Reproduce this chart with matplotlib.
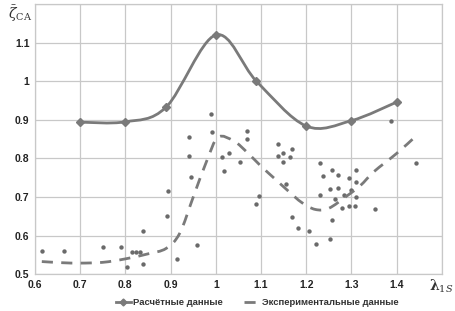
import numpy as np
import matplotlib
matplotlib.use("Agg")
import matplotlib.pyplot as plt
from matplotlib.path import Path
from matplotlib.patches import PathPatch
from matplotlib.lines import Line2D

# Calculated data (smoothed line with markers)
calc_x = [0.70, 0.80, 0.89, 1.00, 1.09, 1.20, 1.30, 1.40]
calc_y = [0.894, 0.895, 0.933, 1.120, 1.000, 0.884, 0.898, 0.946]

# Experimental scatter points
exp_x = [0.616, 0.665, 0.751, 0.790, 0.803, 0.814, 0.823, 0.832, 0.838, 0.838,
         0.893, 0.894, 0.913, 0.941, 0.941, 0.945, 0.958, 0.989, 0.991, 1.014,
         1.029, 1.018, 1.053, 1.070, 1.070, 1.096, 1.090, 1.138, 1.137, 1.149,
         1.168, 1.165, 1.149, 1.155, 1.169, 1.182, 1.207, 1.222, 1.231, 1.238,
         1.231, 1.256, 1.270, 1.253, 1.270, 1.264, 1.257, 1.253, 1.279, 1.284,
         1.294, 1.300, 1.294, 1.310, 1.310, 1.311, 1.309, 1.352, 1.387, 1.444]
exp_y = [0.561, 0.561, 0.571, 0.572, 0.520, 0.557, 0.557, 0.557, 0.611, 0.527,
         0.651, 0.716, 0.540, 0.856, 0.806, 0.751, 0.576, 0.915, 0.868, 0.805,
         0.813, 0.768, 0.791, 0.871, 0.851, 0.702, 0.681, 0.837, 0.807, 0.815,
         0.825, 0.803, 0.790, 0.735, 0.648, 0.621, 0.613, 0.579, 0.787, 0.755,
         0.705, 0.770, 0.758, 0.720, 0.724, 0.696, 0.641, 0.591, 0.672, 0.705,
         0.750, 0.718, 0.677, 0.770, 0.740, 0.699, 0.676, 0.669, 0.896, 0.789]

# Experimental trend (dashed)
trend_x = [0.615, 0.66, 0.70, 0.75, 0.80, 0.85, 0.89, 0.92, 0.95, 0.98, 1.005,
           1.04, 1.07, 1.10, 1.13, 1.16, 1.19, 1.22, 1.25, 1.29, 1.32, 1.35, 1.40, 1.44]
trend_y = [0.533, 0.530, 0.529, 0.531, 0.540, 0.553, 0.567, 0.606, 0.700, 0.794, 0.855,
           0.845, 0.815, 0.780, 0.748, 0.716, 0.686, 0.668, 0.671, 0.703, 0.730, 0.766, 0.813, 0.855]

x_ticks = [0.6, 0.7, 0.8, 0.9, 1.0, 1.1, 1.2, 1.3, 1.4, 1.5]
x_tick_labels = ["0.6", "0.7", "0.8", "0.9", "1", "1.1", "1.2", "1.3", "1.4", ""]
y_ticks = [0.5, 0.6, 0.7, 0.8, 0.9, 1.0, 1.1, 1.2]
y_tick_labels = ["0.5", "0.6", "0.7", "0.8", "0.9", "1", "1.1", ""]

legend_labels = ["Расчётные данные", "Экспериментальные данные"]


def smooth_path(xs, ys):
    pts = np.column_stack([xs, ys]).astype(float)
    n = len(pts)
    verts = [pts[0]]
    codes = [Path.MOVETO]
    for i in range(n - 1):
        p0 = pts[i - 1] if i > 0 else pts[i]
        p1 = pts[i]
        p2 = pts[i + 1]
        p3 = pts[i + 2] if i + 2 < n else pts[i + 1]
        c1 = p1 + (p2 - p0) / 6.0
        c2 = p2 - (p3 - p1) / 6.0
        verts += [c1, c2, p2]
        codes += [Path.CURVE4] * 3
    return Path(verts, codes)


plt.rcParams['font.family'] = ['Liberation Sans', 'DejaVu Sans']
plt.rcParams['mathtext.fontset'] = 'dejavuserif'

fig = plt.figure(figsize=(4.55, 3.11), dpi=100)
ax = fig.add_axes([0.077, 0.118, 0.894, 0.869])
ax.set_xlim(0.6, 1.5)
ax.set_ylim(0.5, 1.2)

grid_c = '#c8c8c8'
ax.set_xticks(x_ticks)
ax.set_xticklabels(x_tick_labels)
ax.set_yticks(y_ticks)
ax.set_yticklabels(y_tick_labels)
ax.grid(True, color=grid_c, linewidth=0.9)
ax.set_axisbelow(True)
for s in ax.spines.values():
    s.set_color(grid_c)
    s.set_linewidth(0.9)
ax.tick_params(length=0, labelsize=7.5, colors='#222222', pad=4)
for lab in ax.get_xticklabels() + ax.get_yticklabels():
    lab.set_fontweight('bold')

line_c = '#7a7a7a'
# scatter
ax.scatter(exp_x, exp_y, s=10, color='#6a6a6a', zorder=3, linewidths=0)
# trend
ax.add_patch(PathPatch(smooth_path(trend_x, trend_y), facecolor='none',
                       edgecolor=line_c, linewidth=2.0, linestyle=(0, (4, 3)), zorder=4))
# calculated
ax.add_patch(PathPatch(smooth_path(calc_x, calc_y), facecolor='none',
                       edgecolor=line_c, linewidth=2.0, zorder=5))
ax.plot(calc_x, calc_y, linestyle='none', marker='D', markersize=4,
        color=line_c, zorder=6)

# axis labels
fig.text(0.018, 0.94, r'$\bar{\zeta}_{\mathrm{CA}}$', fontsize=10, color='#333333')
fig.text(0.942, 0.065, r'$\mathbf{\lambda}_{\mathit{1S}}$', fontsize=10, color='#333333')

h1 = Line2D([], [], color=line_c, linewidth=2.0, marker='D', markersize=3.5)
h2 = Line2D([], [], color=line_c, linewidth=2.0, linestyle=(0, (4, 3)))
leg = fig.legend([h1, h2], legend_labels, loc='lower center', ncol=2,
                 bbox_to_anchor=(0.565, -0.015), frameon=False, fontsize=6.8,
                 handlelength=1.6, handletextpad=0.3, columnspacing=2.2)
for t in leg.get_texts():
    t.set_fontweight('bold')
    t.set_color('#333333')

fig.savefig('out.png', dpi=100)
